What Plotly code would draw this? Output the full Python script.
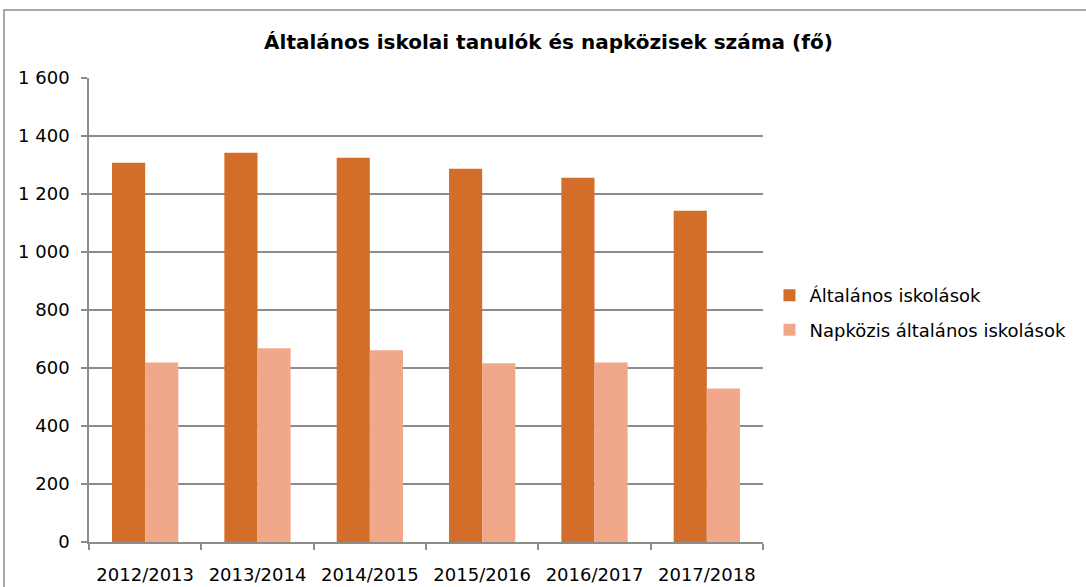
import plotly.graph_objects as go

categories = ["2012/2013", "2013/2014", "2014/2015", "2015/2016", "2016/2017", "2017/2018"]
altalanos = [1308, 1342, 1325, 1287, 1256, 1142]
napkozis = [619, 668, 661, 616, 619, 529]
series_names = ["Általános iskolások", "Napközis általános iskolások"]
colors = ["#D36E2A", "#F1A88A"]

FONT = "'DejaVu Sans', 'Open Sans', sans-serif"
GRID = "#8C8C8C"

fig = go.Figure()
fig.add_trace(go.Bar(x=categories, y=altalanos, name=series_names[0],
                     marker=dict(color=colors[0], line=dict(width=0)), legendgroup="a"))
fig.add_trace(go.Bar(x=categories, y=napkozis, name=series_names[1],
                     marker=dict(color=colors[1], line=dict(width=0)), legendgroup="b"))

fig.update_layout(
    width=1086, height=587,
    margin=dict(l=89, r=323, t=78, b=45, autoexpand=False),
    paper_bgcolor="white", plot_bgcolor="white",
    separators=", ",
    barmode="group", bargap=0.41, bargroupgap=0,
    font=dict(family=FONT, size=18, color="black"),
    title=dict(text="<b>Általános iskolai tanulók és napközisek száma (fő)</b>",
               x=0.505, xanchor="center", y=1 - 42 / 587, yanchor="middle",
               font=dict(family=FONT, size=20, color="black")),
    legend=dict(x=1.0096, y=0.571, xanchor="left", yanchor="top",
                font=dict(family=FONT, size=18, color="black"),
                traceorder="grouped", tracegroupgap=8, bgcolor="rgba(0,0,0,0)"),
    showlegend=True,
)
fig.update_xaxes(automargin=False, showline=True, linecolor=GRID, linewidth=1.5,
                 ticks="outside", tickson="boundaries", ticklen=6, tickcolor=GRID,
                 tickwidth=1.5, ticklabelstandoff=16, showgrid=False, tickangle=0,
                 tickfont=dict(family=FONT, size=18, color="black"))
fig.update_yaxes(automargin=False, range=[0, 1600], dtick=200, tickformat=",d",
                 showline=True, linecolor=GRID, linewidth=1.5,
                 ticks="outside", ticklen=6, tickcolor=GRID, tickwidth=1.5,
                 ticklabelstandoff=8,
                 showgrid=True, gridcolor=GRID, gridwidth=1.5, zeroline=False,
                 tickfont=dict(family=FONT, size=18, color="black"))

# outer chart border
fig.add_shape(type="rect", xref="paper", yref="paper",
              x0=(4 - 89) / 674, x1=(1095 - 89) / 674,
              y0=-0.3, y1=(542 - 10) / 464,
              line=dict(color="#8C8C8C", width=1.5), fillcolor="rgba(0,0,0,0)", layer="below")

fig.write_html("out.html", config={"displayModeBar": False},
               post_script="document.body.style.margin='0';document.body.style.padding='0';")
